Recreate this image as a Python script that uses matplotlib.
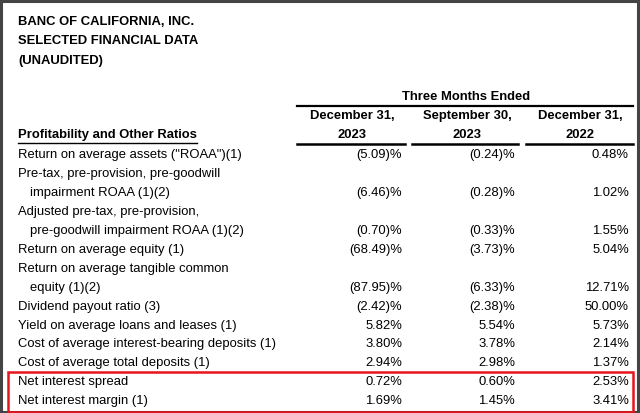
import matplotlib.pyplot as plt
from matplotlib.patches import Rectangle

plt.rcParams['font.family'] = ['Liberation Sans', 'DejaVu Sans']

title_lines = ['BANC OF CALIFORNIA, INC.', 'SELECTED FINANCIAL DATA', '(UNAUDITED)']
period_header = 'Three Months Ended'
col_headers = [('December 31,', '2023'), ('September 30,', '2023'), ('December 31,', '2022')]
section_label = 'Profitability and Other Ratios'

# each row: (label lines, values per column); continuation lines are indented
row_labels = [
    ['Return on average assets ("ROAA")(1)'],
    ['Pre-tax, pre-provision, pre-goodwill', 'impairment ROAA (1)(2)'],
    ['Adjusted pre-tax, pre-provision,', 'pre-goodwill impairment ROAA (1)(2)'],
    ['Return on average equity (1)'],
    ['Return on average tangible common', 'equity (1)(2)'],
    ['Dividend payout ratio (3)'],
    ['Yield on average loans and leases (1)'],
    ['Cost of average interest-bearing deposits (1)'],
    ['Cost of average total deposits (1)'],
    ['Net interest spread'],
    ['Net interest margin (1)'],
]
dec_2023 = ['(5.09)%', '(6.46)%', '(0.70)%', '(68.49)%', '(87.95)%', '(2.42)%',
            '5.82%', '3.80%', '2.94%', '0.72%', '1.69%']
sep_2023 = ['(0.24)%', '(0.28)%', '(0.33)%', '(3.73)%', '(6.33)%', '(2.38)%',
            '5.54%', '3.78%', '2.98%', '0.60%', '1.45%']
dec_2022 = ['0.48%', '1.02%', '1.55%', '5.04%', '12.71%', '50.00%',
            '5.73%', '2.14%', '1.37%', '2.53%', '3.41%']
highlighted = ['Net interest spread', 'Net interest margin (1)']

fig = plt.figure(figsize=(6.4, 4.13), dpi=100)
ax = fig.add_axes([0, 0, 1, 1])
ax.set_xlim(0, 640)
ax.set_ylim(413, 0)
ax.axis('off')

fs = 9.35
txt = dict(fontsize=fs, color='black', va='center')

# outer frame
ax.add_patch(Rectangle((1, 1), 637, 411, fill=False, edgecolor='#444444', lw=2.2))

for i, line in enumerate(title_lines):
    ax.text(18, 22 + i * 19.3, line, fontweight='bold', **txt)

col_x = [352, 467, 580]
col_right = [402, 515, 629]
col_span = [(297, 405), (412, 518), (526, 633)]

ax.text(466, 97, period_header, ha='center', fontweight='bold', **txt)
ax.plot([297, 633], [106, 106], color='black', lw=1.6)
for (top, bot), cx, (x0, x1) in zip(col_headers, col_x, col_span):
    ax.text(cx, 116, top, ha='center', fontweight='bold', **txt)
    ax.text(cx, 135, bot, ha='center', fontweight='bold', **txt)
    ax.plot([x0, x1], [144, 144], color='black', lw=1.8)

sec = ax.text(18, 135, section_label, fontweight='bold', **txt)
fig.canvas.draw()
bb = sec.get_window_extent().transformed(ax.transData.inverted())
ax.plot([bb.x0, bb.x1], [142.5, 142.5], color='black', lw=1.0)

y = 155
row_h = 18.95
hl_top = None
for labels, v1, v2, v3 in zip(row_labels, dec_2023, sep_2023, dec_2022):
    if labels[0] in highlighted and hl_top is None:
        hl_top = y - row_h / 2 - 0.5
    for j, line in enumerate(labels):
        ax.text(18 if j == 0 else 30, y, line, **txt)
        if j < len(labels) - 1:
            y += row_h
    for cx, v in zip(col_right, (v1, v2, v3)):
        ax.text(cx, y, v, ha='right', **txt)
    y += row_h

ax.add_patch(Rectangle((8, hl_top), 625, y - row_h / 2 - hl_top + 1.5,
                       fill=False, edgecolor='#e8141c', lw=1.8))

plt.savefig('out.png', dpi=100)
plt.close()
